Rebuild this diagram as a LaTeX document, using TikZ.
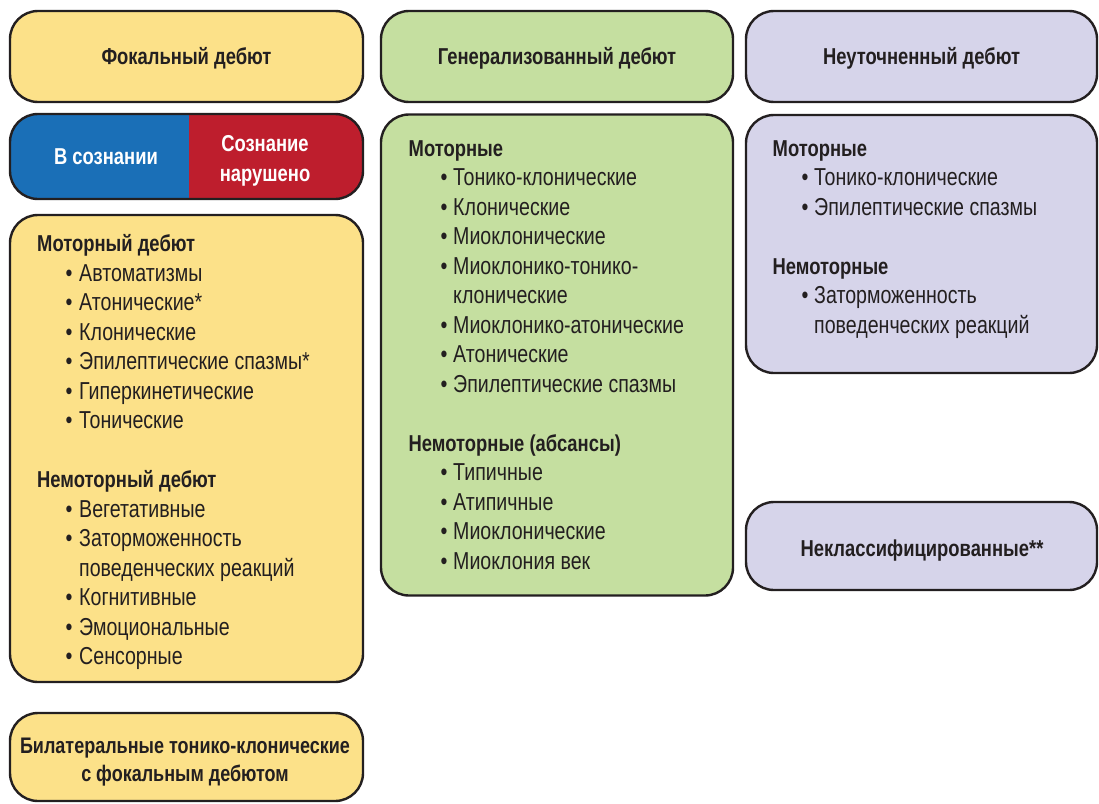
\documentclass[tikz,border=0pt]{standalone}
\usepackage{fontspec}
\setmainfont{Liberation Sans}[FakeStretch=0.8]
\definecolor{yel}{RGB}{252,225,137}
\definecolor{grn}{RGB}{197,223,160}
\definecolor{lav}{RGB}{214,212,234}
\definecolor{blu}{RGB}{26,111,183}
\definecolor{rd}{RGB}{190,30,45}
\definecolor{ink}{RGB}{35,31,32}
\begin{document}
\begin{tikzpicture}[x=1pt,y=-1pt,
  box/.style={draw=ink, line width=2.4pt, rounded corners=28pt, inner sep=0pt},
  hdr/.style={font=\fontsize{23}{29}\selectfont\bfseries, text=ink, align=center, inner sep=0pt},
  head/.style={anchor=base west, inner sep=0pt, font=\fontsize{23}{29}\selectfont\bfseries, text=ink},
  itm/.style={anchor=base west, inner sep=0pt, font=\fontsize{24.5}{29.5}\selectfont, text=ink},
  wht/.style={font=\fontsize{23}{29.5}\selectfont\bfseries, text=white, align=center, inner sep=0pt}]
\useasboundingbox (0,0) rectangle (1099,803);

% ---------- column 1: focal ----------
\node[box, fill=yel, minimum width=353pt, minimum height=91pt] (fbox) at (186.5,56.5) {};
\node[hdr, anchor=base] (ftitle) at (186.5,64.5) {Фокальный дебют};

\begin{scope}
  \clip[rounded corners=28pt] (10,114) rectangle (363,199);
  \fill[blu] (10,114) rectangle (189,199);
  \fill[rd] (189,114) rectangle (363,199);
\end{scope}
\node[box, minimum width=353pt, minimum height=85pt] (cbox) at (186.5,156.5) {};
\node[wht, anchor=base] (aware) at (106,164) {В сознании};
\node[wht] (impaired) at (265,161) {Сознание\\нарушено};

\node[box, fill=yel, minimum width=353pt, minimum height=467pt] (flist) at (186.5,448.5) {};
\node[head] (fh1) at (37,251.5) {Моторный дебют};
\node[head] (fh2) at (37,{251.5+29.5*8}) {Немоторный дебют};
\foreach \k/\t in {1/Автоматизмы, 2/Атонические*, 3/Клонические, 4/Эпилептические спазмы*,
  5/Гиперкинетические, 6/Тонические, 9/Вегетативные, 10/Заторможенность, 12/Когнитивные,
  13/Эмоциональные, 14/Сенсорные}{
  \node[itm] (fb\k) at (65.5,{251.5+29.5*\k}) {•};
  \node[itm] (fi\k) at (79,{251.5+29.5*\k}) {\t};
}
\node[itm] (fi11) at (79,{251.5+29.5*11}) {поведенческих реакций};

\node[box, fill=yel, minimum width=353pt, minimum height=88pt] (bbox) at (186.5,757) {};
\node[hdr, font=\fontsize{22.5}{28.5}\selectfont\bfseries] (btitle) at (185,762) {Билатеральные тонико-клонические\\с фокальным дебютом};

% ---------- column 2: generalized ----------
\node[box, fill=grn, minimum width=352pt, minimum height=91pt] (gbox) at (557,56.5) {};
\node[hdr, anchor=base] (gtitle) at (557,64.5) {Генерализованный дебют};

\node[box, fill=grn, minimum width=352pt, minimum height=481pt] (glist) at (557,355) {};
\node[head] (gh1) at (408.5,156) {Моторные};
\node[head] (gh2) at (408.5,{156+29.5*10}) {Немоторные (абсансы)};
\foreach \k/\t in {1/Тонико-клонические, 2/Клонические, 3/Миоклонические, 4/Миоклонико-тонико-,
  6/Миоклонико-атонические, 7/Атонические, 8/Эпилептические спазмы, 11/Типичные,
  12/Атипичные, 13/Миоклонические, 14/Миоклония век}{
  \node[itm] (gb\k) at (440.5,{156+29.5*\k}) {•};
  \node[itm] (gi\k) at (453,{156+29.5*\k}) {\t};
}
\node[itm] (gi5) at (453,{156+29.5*5}) {клонические};

% ---------- column 3: unknown ----------
\node[box, fill=lav, minimum width=351pt, minimum height=91pt] (ubox) at (921.5,56.5) {};
\node[hdr, anchor=base] (utitle) at (921.5,64.5) {Неуточненный дебют};

\node[box, fill=lav, minimum width=351pt, minimum height=258pt] (ulist) at (921.5,244) {};
\node[head] (uh1) at (772.5,156) {Моторные};
\node[head] (uh2) at (772.5,{156+29.5*4}) {Немоторные};
\foreach \k/\t in {1/Тонико-клонические, 2/Эпилептические спазмы, 5/Заторможенность}{
  \node[itm] (ub\k) at (801.5,{156+29.5*\k}) {•};
  \node[itm] (ui\k) at (814,{156+29.5*\k}) {\t};
}
\node[itm] (ui6) at (814,{156+29.5*6}) {поведенческих реакций};

\node[box, fill=lav, minimum width=351pt, minimum height=88pt] (nbox) at (921.5,546) {};
\node[hdr, anchor=base] (ntitle) at (922,556.5) {Неклассифицированные**};
\end{tikzpicture}
\end{document}
